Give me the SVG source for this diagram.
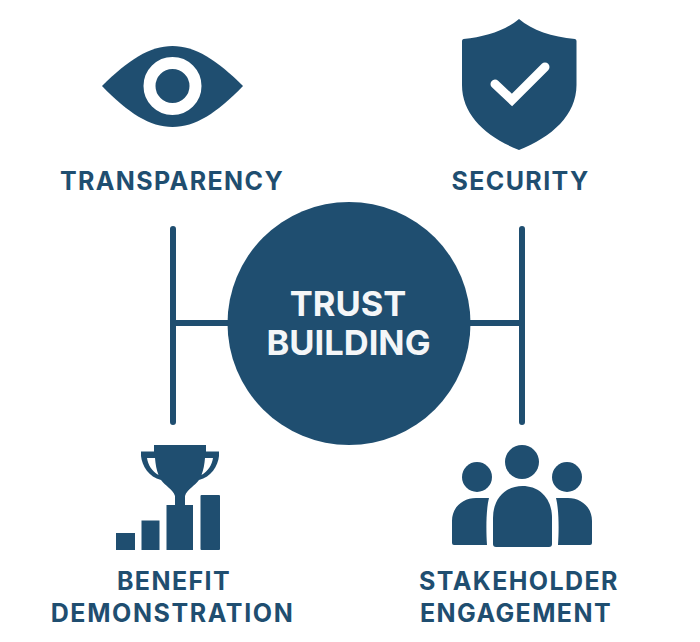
<svg xmlns="http://www.w3.org/2000/svg" width="700" height="642" viewBox="0 0 700 642">
<style>
.f{fill:#1f4e70}
.t{font-family:"Inter","Liberation Sans",sans-serif;font-weight:700;font-size:25px;fill:#1f4e70;text-anchor:middle;letter-spacing:1.4px}
.c{fill:#f4f6f8;font-size:34.500px;letter-spacing:0}
.w{stroke:#fff;fill:none}
.l{stroke:#1f4e70;stroke-width:6;stroke-linecap:round;fill:none}
</style>
<rect width="700" height="642" fill="#fff"/>
<g id="connectors">
<path class="l" d="M173 229V422M173 323H230"/>
<path class="l" d="M522 229V422M522 323H468"/>
</g>
<g id="center">
<circle class="f" cx="349" cy="323.500" r="121.500"/>
<text class="t c" x="348" y="316">TRUST</text>
<text class="t c" x="348.500" y="355">BUILDING</text>
</g>
<g id="transparency">
<path class="f" d="M102 86C128 60 150 46 172.500 46C195 46 217 60 243 86C217 113 195 127 172.500 127C150 127 128 113 102 86Z"/>
<circle class="w" cx="172.500" cy="86" r="23" stroke-width="12"/>
<text class="t" x="172" y="190">TRANSPARENCY</text>
</g>
<g id="security">
<path class="f" d="M519 19C532 30 552 37 575 39Q576.500 39.500 576.500 41V85C576.500 115 552 137 519 150C486 137 462 115 462 85V41Q462 39.500 463.500 39C486 37 506 30 519 19Z"/>
<path class="w" d="M495 84L512 100L545 67" stroke-width="9" stroke-linecap="round" stroke-linejoin="miter"/>
<text class="t" x="520.500" y="190">SECURITY</text>
</g>
<g id="benefit">
<path class="f" fill-rule="evenodd" d="M154 445H206V451.500H219V456C218 466 211 477 199 480C195 486 187 489 185 496V505H193V550H166.500V505H175V496C173 489 165 486 161 480C149 477 142 466 141 456V451.500H154ZM147 458C148 465 152 471 158.500 475C156.500 470 155.500 464 155 458ZM213 458C212 465 208 471 201.500 475C203.500 470 204.500 464 205 458Z"/>
<rect class="f" x="116" y="533" width="19" height="17"/>
<rect class="f" x="141.500" y="520.500" width="18" height="29.500"/>
<rect class="f" x="200.500" y="495" width="19.500" height="55" rx="1"/>
<text class="t" x="174" y="590">BENEFIT</text>
<text class="t" x="172.500" y="622" style="letter-spacing:1.6px">DEMONSTRATION</text>
</g>
<g id="stakeholder">
<circle class="f" cx="522" cy="462" r="17"/>
<circle class="f" cx="477" cy="477" r="15"/>
<circle class="f" cx="567" cy="477" r="15"/>
<path class="f" d="M493 518C493 498 506 486 522.500 486C539 486 552 498 552 518V544Q552 547 549 547H496Q493 547 493 544Z"/>
<path class="f" d="M452 521C452 507 463 498 476 498H489C486 510 486 530 487 545H454Q452 545 452 543Z"/>
<path class="f" d="M592 521C592 507 581 498 568 498H556C559 510 559 530 558 545H590Q592 545 592 543Z"/>
<text class="t" x="519" y="590">STAKEHOLDER</text>
<text class="t" x="516" y="622">ENGAGEMENT</text>
</g>
</svg>
